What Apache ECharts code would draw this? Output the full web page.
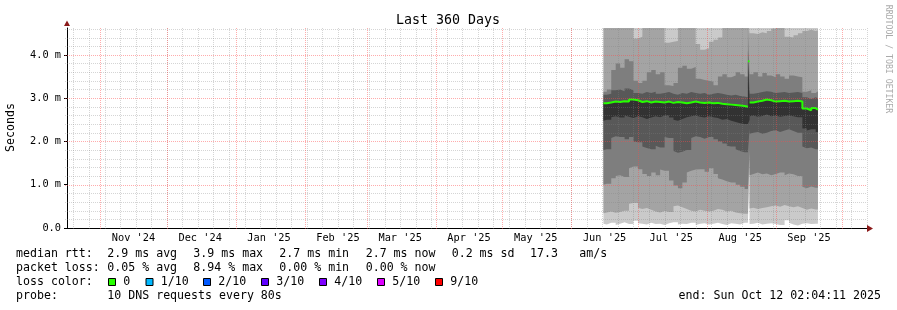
<!DOCTYPE html>
<html>
<head>
<meta charset="utf-8">
<script src="https://cdn.jsdelivr.net/npm/echarts@6/dist/echarts.min.js"></script>
<style>
html,body{margin:0;padding:0;background:#ffffff;}
#chart{width:897px;height:310px;}
</style>
</head>
<body>
<div id="chart"></div>
<script>
// ---------------- data ----------------
const sampleTimes = [
 '2025-06-15 12:00','2025-06-17','2025-06-19','2025-06-21','2025-06-23','2025-06-25','2025-06-27','2025-06-29',
 '2025-07-01','2025-07-03','2025-07-05','2025-07-07','2025-07-09','2025-07-11','2025-07-13','2025-07-15',
 '2025-07-17','2025-07-19','2025-07-21','2025-07-23','2025-07-25','2025-07-27','2025-07-29','2025-07-31',
 '2025-08-02','2025-08-04','2025-08-06','2025-08-08','2025-08-10','2025-08-12','2025-08-14','2025-08-16',
 '2025-08-18','2025-08-19 12:00','2025-08-20 06:00','2025-08-22','2025-08-24','2025-08-26','2025-08-28','2025-08-30',
 '2025-09-01','2025-09-03','2025-09-05','2025-09-07','2025-09-09','2025-09-11','2025-09-13','2025-09-15',
 '2025-09-17','2025-09-19','2025-09-20'
];
// sorted ping rtts (ms), ping1 = fastest ... ping10 = slowest
const ping1 = [0.10,0.08,0.12,0.07,0.10,0.13,0.09,0.17,0.11,0.10,0.08,0.12,0.09,0.10,0.07,0.11,0.13,0.08,0.10,0.09,0.12,0.07,0.10,0.11,0.08,0.10,0.12,0.09,0.07,0.11,0.10,0.08,0.12,
 1.70,
 0.09,0.10,0.12,0.08,0.10,0.11,0.09,0.07,0.18,0.12,0.08,0.06,0.10,0.11,0.09,0.10,0.10];
const ping2 = [0.34,0.36,0.38,0.35,0.37,0.40,0.56,0.58,0.47,0.44,0.46,0.42,0.38,0.36,0.39,0.37,0.50,0.52,0.48,0.44,0.40,0.38,0.42,0.40,0.38,0.40,0.44,0.42,0.38,0.40,0.36,0.34,0.33,
 1.75,
 0.45,0.47,0.44,0.46,0.48,0.50,0.52,0.49,0.53,0.50,0.48,0.50,0.46,0.42,0.45,0.43,0.43];
const ping3 = [1.00,1.02,1.15,1.20,1.22,1.18,1.38,1.42,1.36,1.25,1.20,1.28,1.22,1.35,1.32,1.10,0.98,0.92,1.05,1.28,1.32,1.35,1.36,1.30,1.38,1.25,1.15,1.12,1.08,1.05,1.00,0.95,0.90,
 1.80,
 1.22,1.25,1.28,1.24,1.26,1.22,1.25,1.28,1.22,1.26,1.24,1.20,0.95,0.92,0.96,0.93,0.93];
const ping4 = [1.80,1.82,2.08,2.12,2.10,2.05,2.10,2.00,1.98,1.88,1.85,1.82,1.90,1.86,2.10,2.08,1.78,1.74,1.76,1.80,2.08,2.12,2.10,2.06,2.10,2.05,2.00,1.95,1.90,1.88,1.82,1.78,1.75,
 2.30,
 2.18,2.20,2.22,2.18,2.20,2.24,2.26,2.22,2.25,2.28,2.24,2.20,1.88,1.84,1.86,1.82,1.82];
const ping5 = [2.48,2.50,2.56,2.58,2.55,2.60,2.57,2.54,2.58,2.56,2.52,2.55,2.58,2.56,2.60,2.55,2.50,2.48,2.52,2.56,2.58,2.60,2.57,2.55,2.58,2.56,2.54,2.50,2.52,2.48,2.45,2.42,2.40,
 2.50,
 2.58,2.60,2.57,2.59,2.62,2.58,2.60,2.57,2.59,2.60,2.58,2.56,2.30,2.25,2.28,2.22,2.22];
const ping6 = [2.88,2.90,2.92,2.91,2.93,2.92,2.97,2.95,2.91,2.93,2.90,2.92,2.91,2.90,2.92,2.89,2.91,2.90,2.88,2.90,2.92,2.90,2.89,2.90,2.88,2.89,2.87,2.86,2.85,2.84,2.83,2.82,2.80,
 3.85,
 2.90,2.92,2.94,2.97,2.95,2.92,2.93,2.94,2.92,2.93,2.94,2.92,2.76,2.72,2.77,2.73,2.73];
const ping7 = [3.08,3.10,3.18,3.20,3.16,3.22,3.18,3.12,3.10,3.14,3.12,3.15,3.10,3.12,3.14,3.10,3.08,3.12,3.10,3.14,3.12,3.10,3.12,3.08,3.10,3.12,3.10,3.08,3.06,3.08,3.05,3.04,3.02,
 4.10,
 3.10,3.12,3.14,3.16,3.15,3.12,3.13,3.14,3.12,3.13,3.14,3.12,3.02,2.98,3.02,3.00,3.00];
const ping8 = [3.15,3.20,3.65,3.80,3.70,3.90,3.85,3.40,3.35,3.40,3.60,3.65,3.55,3.60,3.30,3.28,3.35,3.70,3.75,3.68,3.72,3.45,3.42,3.40,3.38,3.30,3.50,3.55,3.48,3.52,3.60,3.55,3.50,
 4.62,
 3.55,3.60,3.50,3.58,3.52,3.48,3.55,3.50,3.45,3.52,3.50,3.48,3.15,3.18,3.12,3.16,3.16];
const ping9 = [4.80,4.80,4.80,4.80,4.80,4.80,4.80,4.38,4.42,4.80,4.80,4.80,4.80,4.80,4.28,4.30,4.32,4.80,4.80,4.80,4.80,4.25,4.12,4.15,4.30,4.35,4.40,4.80,4.80,4.80,4.80,4.80,4.80,
 4.80,
 4.50,4.48,4.52,4.50,4.55,4.60,4.80,4.80,4.42,4.40,4.45,4.50,4.55,4.58,4.55,4.57,4.57];
const ping10 = [5.00,5.00,5.00,5.00,5.00,5.00,5.00,5.00,5.00,5.00,5.00,5.00,5.00,5.00,5.00,5.00,5.00,5.00,5.00,5.00,5.00,5.00,5.00,5.00,5.00,5.00,5.00,5.00,5.00,5.00,5.00,5.00,5.00,
 5.00,
 5.00,5.00,5.00,5.00,5.00,5.00,5.00,5.00,5.00,5.00,5.00,5.00,5.00,5.00,5.00,5.00,5.00];
// median rtt = 6th sorted ping
const medianRtt = ping6;

const monthLabels = ["Nov '24","Dec '24","Jan '25","Feb '25","Mar '25","Apr '25","May '25","Jun '25","Jul '25","Aug '25","Sep '25"];
const monthLabelAt = ['2024-11-16','2024-12-16','2025-01-16','2025-02-16','2025-03-16','2025-04-16','2025-05-16','2025-06-16','2025-07-16','2025-08-16','2025-09-16'];
const monthStarts = ['2024-11-01','2024-12-01','2025-01-01','2025-02-01','2025-03-01','2025-04-01','2025-05-01','2025-06-01','2025-07-01','2025-08-01','2025-09-01','2025-10-01'];
const firstSunday = '2024-10-20';
const yTickValues = [0,1,2,3,4];
const yTickLabels = ['0.0','1.0 m','2.0 m','3.0 m','4.0 m'];
const yMinorStep = 0.2;
const rangeStart = '2024-10-17 02:04:11';
const rangeEnd = '2025-10-12 02:04:11';
const yMax = 4.62;

const rttStats = ['2.9 ms avg','3.9 ms max','2.7 ms min','2.7 ms now','0.2 ms sd','17.3','am/s'];
const lossStats = ['0.05 % avg','8.94 % max','0.00 % min','0.00 % now'];
const lossLabels = ['0','1/10','2/10','3/10','4/10','5/10','9/10'];
const lossColors = ['#26ff00','#00b8ff','#0059ff','#5e00ff','#7e00ff','#dd00ff','#ff0000'];
const probeText = '10 DNS requests every 80s';
const endText = 'end: Sun Oct 12 02:04:11 2025';

// ---------------- chart ----------------
function T(s) {
  const m = /^(\d+)-(\d+)-(\d+)(?:[ T](\d+):(\d+)(?::(\d+))?)?$/.exec(s);
  return new Date(+m[1], +m[2]-1, +m[3], +(m[4]||0), +(m[5]||0), +(m[6]||0)).getTime();
}
const tStart = T(rangeStart), tEnd = T(rangeEnd);
const sampleTs = sampleTimes.map(T);
const MONO = "'DejaVu Sans Mono', monospace";

// each sample holds its value until the next sample time (rrd step)
function stepped(vals, breakJump) {
  const out = [];
  for (let i = 0; i < sampleTs.length - 1; i++) {
    out.push([sampleTs[i], vals[i]]);
    out.push([sampleTs[i+1], vals[i]]);
    if (breakJump && i + 1 < vals.length && Math.abs(vals[i+1] - vals[i]) > breakJump) {
      out.push([sampleTs[i+1], '-']);
    }
  }
  return out;
}

const pings = [ping1,ping2,ping3,ping4,ping5,ping6,ping7,ping8,ping9,ping10];
// smoke: band i spans ping(i) .. ping(11-i); outer bands lighter, drawn first
const bandGray = ['#cacaca','#a4a4a4','#7e7e7e','#585858','#323232'];

const series = [];
for (let b = 0; b < 5; b++) {
  const lo = pings[b], hi = pings[9 - b];
  series.push({
    type:'line', stack:'band' + b, symbol:'none', silent:true, z:2, xAxisIndex:0,
    lineStyle:{width:0, opacity:0},
    data: stepped(lo)
  });
  series.push({
    type:'line', stack:'band' + b, symbol:'none', silent:true, z:2, xAxisIndex:0,
    lineStyle:{width:0, opacity:0},
    areaStyle:{color:bandGray[b], opacity:1},
    data: stepped(hi.map((v,i) => +(v - lo[i]).toFixed(3)))
  });
}
series.push({
  type:'line', symbol:'none', silent:true, z:3, xAxisIndex:0, connectNulls:false,
  lineStyle:{color: lossColors[0], width:2},
  data: stepped(medianRtt, 0.5)
});

const labelTs = monthLabelAt.map(T);
function monthFmt(v) {
  for (let i = 0; i < labelTs.length; i++) if (Math.abs(labelTs[i] - v) < 60000) return monthLabels[i];
  return '';
}
function yFmt(v) {
  const i = yTickValues.indexOf(Math.round(v*100)/100);
  return i >= 0 ? yTickLabels[i] : '';
}

const chart = echarts.init(document.getElementById('chart'), null, {renderer:'canvas'});
chart.setOption({
  animation:false,
  backgroundColor:'#ffffff',
  grid:{left:67, top:28, width:800, height:200, containLabel:false},
  xAxis:[{
    type:'time', min:tStart, max:tEnd, position:'bottom',
    axisLine:{show:true, lineStyle:{color:'#000', width:1}},
    axisTick:{show:false}, splitLine:{show:false}, axisLabel:{show:false}
  },{
    type:'value', min:tStart, max:tEnd, position:'bottom',
    axisLine:{show:false}, axisTick:{show:false}, splitLine:{show:false},
    axisLabel:{customValues: labelTs, formatter: monthFmt, fontFamily: MONO, fontSize:10.3,
      color:'#000', margin:5, hideOverlap:false}
  }],
  yAxis:{
    type:'value', min:0, max:yMax, interval:1,
    axisLine:{show:true, lineStyle:{color:'#000', width:1}},
    axisTick:{show:true, length:3, customValues: yTickValues, lineStyle:{color:'#000'}},
    splitLine:{show:false},
    axisLabel:{customValues: yTickValues, formatter: yFmt, fontFamily: MONO, fontSize:10.3, color:'#000', margin:6}
  },
  tooltip:{show:false},
  series: series
});

// ---------- overlay: grid lines (positions from the chart's own scales) + texts ----------
const G = [];
const gridGray = {stroke:'rgba(128,128,128,0.33)', lineWidth:1, lineDash:[1,1]};
const gridRed  = {stroke:'rgba(255,70,70,0.45)', lineWidth:1, lineDash:[1,1]};
const X = t => chart.convertToPixel({xAxisIndex:0}, t);
const Y = v => chart.convertToPixel({yAxisIndex:0}, v);
const pTop = Y(yMax), pBot = Y(0), pL = X(tStart), pR = X(tEnd);
function vline(t, st, z) {
  const x = Math.round(X(t)) + 0.5;
  G.push({type:'line', silent:true, z:z, shape:{x1:x, y1:pTop, x2:x, y2:pBot + 2}, style: Object.assign({}, st)});
}
function hline(v, st, z) {
  const y = Math.round(Y(v)) + 0.5;
  G.push({type:'line', silent:true, z:z, shape:{x1:pL - 2, y1:y, x2:pR, y2:y}, style: Object.assign({}, st)});
}
for (let k = 1; k * yMinorStep < yMax; k++) {
  const v = +(k * yMinorStep).toFixed(2);
  if (yTickValues.indexOf(v) < 0) hline(v, gridGray, 5);
}
{
  const fs = new Date(T(firstSunday));
  for (let d = new Date(fs.getFullYear(), fs.getMonth(), fs.getDate()); d.getTime() < tEnd;
       d = new Date(d.getFullYear(), d.getMonth(), d.getDate() + 7)) vline(d.getTime(), gridGray, 5);
}
yTickValues.forEach(v => { if (v > 0) hline(v, gridRed, 6); });
monthStarts.forEach(s => vline(T(s), gridRed, 6));

function txt(s, x, y, size, extra) {
  const st = Object.assign({text:s, fill:'#000', font: size + 'px ' + MONO,
    align:'left', verticalAlign:'middle'}, extra || {});
  return {type:'text', x:x, y:y, silent:true, z:10, style: st};
}
G.push(txt('Last 360 Days', 448, 20.3, 13.3, {align:'center'}));
G.push(Object.assign(txt('Seconds', 11, 127.5, 11.6, {align:'center'}), {rotation: Math.PI/2}));
G.push(Object.assign(txt('RRDTOOL / TOBI OETIKER', 888, 59, 8.2, {align:'center', fill:'#aaaaaa'}), {rotation: -Math.PI/2}));
G.push({type:'polygon', silent:true, z:10, shape:{points:[[64,26],[67,20.5],[70,26]]}, style:{fill:'#8b1a1a'}});
G.push({type:'polygon', silent:true, z:10, shape:{points:[[867,225],[873,228.5],[867,232]]}, style:{fill:'#8b1a1a'}});

const FS = 11.6;
const rowY = [254.2, 268.2, 282.2, 296.2];
const colX = [107.3, 193.3, 279.3, 365.7, 451.7, 530, 579.3];
G.push(txt('median rtt:', 16, rowY[0], FS));
rttStats.forEach((s,i) => G.push(txt(s, colX[i], rowY[0], FS)));
G.push(txt('packet loss:', 16, rowY[1], FS));
lossStats.forEach((s,i) => G.push(txt(s, colX[i], rowY[1], FS)));
G.push(txt('loss color:', 16, rowY[2], FS));
const boxX = [108.5, 146, 203.5, 261.5, 319.5, 377.5, 435.5];
lossLabels.forEach((s,i) => {
  G.push({type:'rect', silent:true, z:10, shape:{x:boxX[i], y:278.5, width:7, height:7},
    style:{fill: lossColors[i], stroke:'#000', lineWidth:1}});
  G.push(txt(s, boxX[i] + 14.8, rowY[2], FS));
});
G.push(txt('probe:', 16, rowY[3], FS));
G.push(txt(probeText, colX[0], rowY[3], FS));
G.push(txt(endText, 881, rowY[3], FS, {align:'right'}));

chart.setOption({graphic: G});
</script>
</body>
</html>
